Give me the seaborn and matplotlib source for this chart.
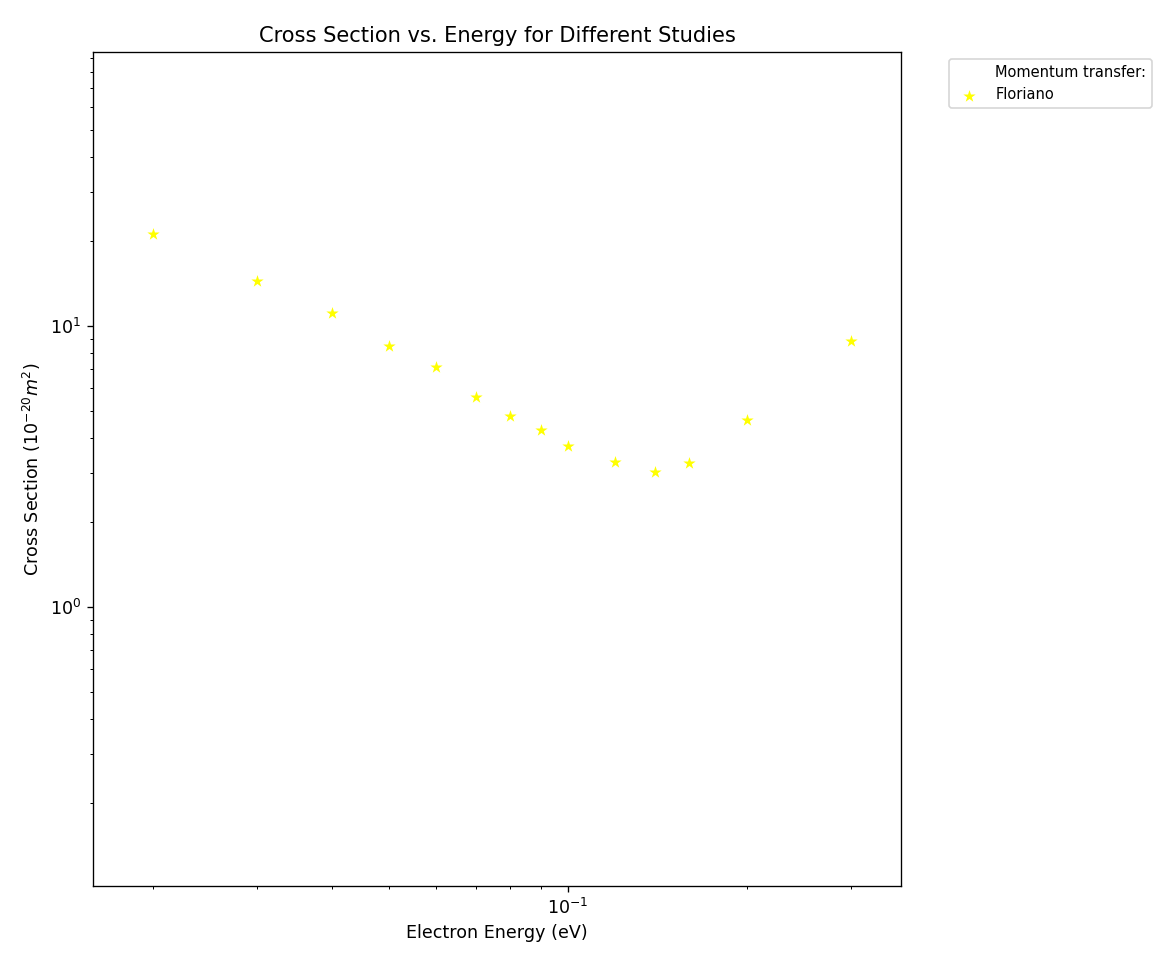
import numpy as np
import pandas as pd
import seaborn as sns
import matplotlib
matplotlib.use("Agg")
import matplotlib.pyplot as plt

sns.set_style("ticks", {"axes.edgecolor": "black", "text.color": "black",
                        "axes.labelcolor": "black", "xtick.color": "black",
                        "ytick.color": "black"})
plt.rcParams['font.family'] = ['DejaVu Sans']
plt.rcParams['font.size'] = 10.5
plt.rcParams['axes.titlesize'] = 12.6

# Floriano momentum-transfer cross section
energy = [0.02, 0.03, 0.04, 0.05, 0.06, 0.07, 0.08, 0.09, 0.10, 0.12, 0.14, 0.16, 0.20, 0.30]
cross_section = [21.2, 14.4, 11.1, 8.5, 7.15, 5.6, 4.8, 4.27, 3.75, 3.28, 3.02, 3.25, 4.63, 8.85]
study = ["Floriano"] * len(energy)

df = pd.DataFrame({"energy": energy, "cross_section": cross_section, "study": study})

fig = plt.figure(figsize=(1171 / 120, 8), dpi=120)
ax = fig.add_axes([93 / 1171, 1 - 886 / 960, 808 / 1171, 834 / 960])

# invisible handle for the legend header
ax.scatter([], [], color="white", alpha=0, label="Momentum transfer:")
sns.scatterplot(data=df, x="energy", y="cross_section", marker="*", s=60,
                color="yellow", edgecolor="yellow", linewidth=0,
                label="Floriano", ax=ax)

ax.set_xscale("log")
ax.set_yscale("log")
ax.set_xlim(0.01586, 0.3636)
ax.set_ylim(0.1016, 94.4)

ax.set_title("Cross Section vs. Energy for Different Studies")
ax.set_xlabel("Electron Energy (eV)")
ax.set_ylabel(r"Cross Section ($10^{-20} m^2$)")

ax.legend(bbox_to_anchor=(1.05, 1), loc="upper left", fontsize=8.75)

fig.savefig("out.png", dpi=120)
